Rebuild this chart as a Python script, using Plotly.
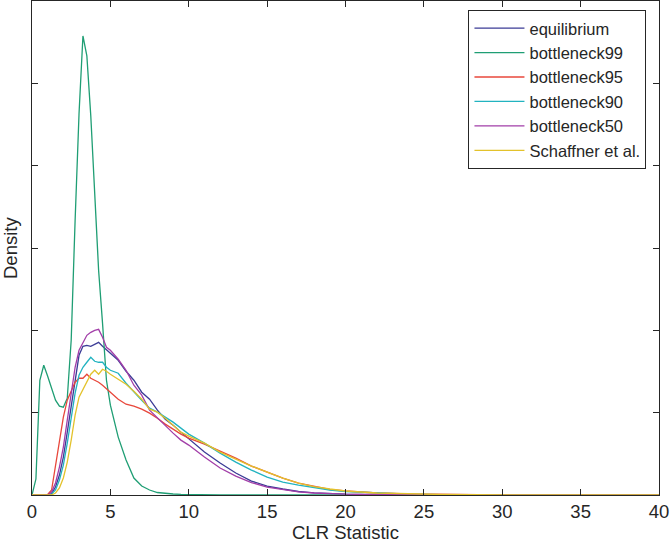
import plotly.graph_objects as go

# CLR statistic grid (x values)
clr = [0, 0.25, 0.5, 0.75, 1, 1.25, 1.5, 1.75, 2, 2.25, 2.5, 2.75, 3, 3.25, 3.5, 3.75,
       4, 4.25, 4.5, 4.75, 5, 5.5, 6, 6.5, 7, 7.5, 8, 8.5, 9, 9.5, 10, 11, 12, 13, 14,
       15, 16, 17, 18, 19, 20, 22, 24, 26, 28, 30, 35, 40]

S = 1650.0  # reading scale (pixels per density unit in the reference)

equilibrium_px = [0, 0, 0, 0, 0, 1.5, 8, 20, 38, 63, 90, 118, 140, 149, 150, 149,
                  151, 153, 149, 145, 142, 135, 124, 115, 103, 96, 85, 76, 70, 63, 56, 43, 32, 22, 14,
                  9, 6, 3.5, 2.2, 1.3, 0.8, 0.3, 0.1, 0, 0, 0, 0, 0]
bottleneck99_px = [0, 16, 115, 130, 119, 107, 95, 89, 88, 97, 155, 275, 382, 460, 440, 380,
                   300, 225, 172, 115, 90, 58, 35, 17, 9, 5, 2.5, 1.5, 1, 0.7, 0.5, 0.3, 0.2, 0.1, 0,
                   0, 0, 0, 0, 0, 0, 0, 0, 0, 0, 0, 0, 0]
bottleneck95_px = [0, 0, 0, 0, 0.5, 5, 29, 56, 78, 95, 105, 113, 117, 117, 121, 117,
                   115, 113, 110, 106, 103, 96, 91, 89, 86, 82, 77, 71, 66, 61, 57, 51, 44, 37, 29,
                   23, 17, 12, 8.5, 5.5, 4, 2, 1, 0.5, 0.3, 0.1, 0, 0]
bottleneck90_px = [0, 0, 0, 0, 0, 0.8, 5, 15, 30, 52, 78, 102, 120, 128, 133, 138,
                   134, 133, 133, 128, 125, 122, 112, 103, 95, 87, 83, 78, 73, 67, 61, 52, 42, 33, 25,
                   18, 13, 10, 7.5, 5, 3.5, 1.8, 0.8, 0.4, 0.2, 0.1, 0, 0]
bottleneck50_px = [0, 0, 0, 0, 0, 3, 12, 28, 48, 75, 102, 128, 145, 152, 160, 163,
                   165, 166, 158, 148, 145, 136, 125, 110, 100, 85, 77, 69, 62, 55, 50, 38, 27, 19, 12.5,
                   8, 5.5, 3.2, 2, 1.2, 0.8, 0.3, 0.1, 0, 0, 0, 0, 0]
schaffner_px = [0, 0, 0, 0, 0, 0, 2, 7, 17, 33, 55, 80, 98, 106, 113, 121,
                125, 121, 126, 124, 121, 116, 111, 104, 96, 86, 83, 77, 70, 63, 59, 52, 43, 36, 29,
                23, 17, 12, 8.5, 6, 4, 2, 1, 0.5, 0.3, 0.1, 0, 0]

series_names = ["equilibrium", "bottleneck99", "bottleneck95", "bottleneck90",
                "bottleneck50", "Schaffner et al."]
series_vals = [equilibrium_px, bottleneck99_px, bottleneck95_px, bottleneck90_px,
               bottleneck50_px, schaffner_px]
colors = ["#3b3b96", "#1f9e74", "#e8473b", "#22b3c0", "#a23ea8", "#e3c22b"]

x_ticks = [0, 5, 10, 15, 20, 25, 30, 35, 40]

fig = go.Figure()
for name, vals, col in zip(series_names, series_vals, colors):
    fig.add_trace(go.Scatter(
        x=clr, y=[v / S for v in vals], mode="lines", name=name,
        line=dict(color=col, width=1.3),
    ))

axis_common = dict(showline=True, linecolor="#262626", linewidth=1, mirror="ticks",
                   ticks="inside", ticklen=6, tickcolor="#262626", showgrid=False,
                   zeroline=False, automargin=False)

fig.update_layout(
    width=670, height=542,
    margin=dict(l=32, r=11, t=1, b=47),
    plot_bgcolor="white", paper_bgcolor="white",
    font=dict(family="Liberation Sans, Arial, sans-serif", size=18.5, color="#262626"),
    xaxis=dict(range=[0, 40], tickvals=x_ticks, **axis_common),
    yaxis=dict(range=[0, 0.3], dtick=0.05, showticklabels=False, **axis_common),
    legend=dict(x=0.98, xanchor="right", y=0.982, yanchor="top",
                bordercolor="#262626", borderwidth=1, bgcolor="white",
                font=dict(size=16.5), itemwidth=50, tracegroupgap=0),
    showlegend=True,
)

fig.add_annotation(text="CLR Statistic", xref="paper", yref="paper", x=0.5, y=0,
                   yshift=-37, showarrow=False, yanchor="middle",
                   font=dict(size=18.5, color="#262626"))
fig.add_annotation(text="Density", xref="paper", yref="paper", x=0, y=0.5,
                   xshift=-22, showarrow=False, textangle=-90, xanchor="center",
                   font=dict(size=18.5, color="#262626"))

fig.write_html("out.html",
               config={"displayModeBar": False},
               post_script="document.body.style.margin='0';document.body.style.padding='0';"
                           "document.body.style.overflow='hidden';")
